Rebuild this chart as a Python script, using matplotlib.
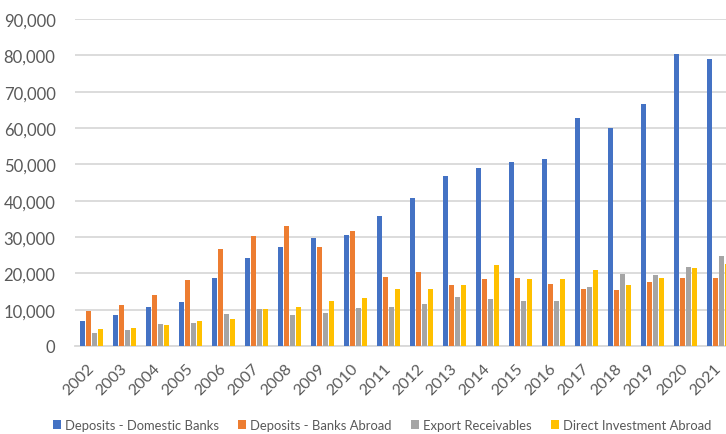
import numpy as np
import matplotlib.pyplot as plt
from matplotlib.ticker import FuncFormatter
from matplotlib.transforms import ScaledTranslation

years = [str(y) for y in range(2002, 2022)]
domestic = [6970, 8620, 10650, 12030, 18730, 24240, 27360, 29840, 30660, 35730,
            40770, 46920, 49120, 50600, 51380, 62810, 60060, 66480, 80440, 79060]
abroad = [9730, 11380, 14050, 18180, 26750, 30390, 33140, 27360, 31600, 18930,
          20300, 16720, 18370, 18640, 17000, 15620, 15340, 17630, 18730, 18730]
receivables = [3580, 4400, 6060, 6340, 8820, 10190, 8540, 9180, 10470, 10830,
               11650, 13410, 12860, 12310, 12480, 16250, 19830, 19560, 21760, 24790]
investment = [4680, 4960, 5870, 6890, 7440, 10190, 10830, 12480, 13310, 15620,
              15620, 16720, 22310, 18370, 18460, 20940, 16800, 18730, 21490, 22590]

series = [
    ("Deposits - Domestic Banks", domestic, "#4472C4"),
    ("Deposits - Banks Abroad", abroad, "#ED7D31"),
    ("Export Receivables", receivables, "#A5A5A5"),
    ("Direct Investment Abroad", investment, "#FFC000"),
]

plt.rcParams['font.family'] = ['Lato', 'DejaVu Sans']

fig = plt.figure(figsize=(7.26, 4.35), dpi=100)
# plot area runs past the right edge, so the last group gets clipped
ax = fig.add_axes([75 / 726, 1 - 347 / 435, 660 / 726, 327 / 435])

x = np.arange(len(years))
step = 0.18
width = 0.14
for i, (name, vals, col) in enumerate(series):
    ax.bar(x + (i - 1.5) * step, vals, width=width, color=col, label=name, zorder=3)

ax.set_xlim(-0.5, len(years) - 0.5)
ax.set_ylim(0, 90000)
ax.set_yticks(np.arange(0, 90001, 10000))
ax.yaxis.set_major_formatter(FuncFormatter(lambda v, p: f"{int(v):,}"))
ax.set_xticks(x)
ax.set_xticklabels(years, rotation=45, ha='right', va='center', rotation_mode='anchor')
# nudge the year labels a little to the left
shift = ScaledTranslation(-3 / 100, 0, fig.dpi_scale_trans)
for lbl in ax.get_xticklabels():
    lbl.set_transform(lbl.get_transform() + shift)

ax.grid(axis='y', color='#D9D9D9', linewidth=1.3, zorder=0)
for s in ['top', 'right', 'left']:
    ax.spines[s].set_visible(False)
ax.spines['bottom'].set_color('#D9D9D9')
ax.spines['bottom'].set_linewidth(1.3)
ax.tick_params(axis='both', length=0, labelcolor='#595959')
ax.tick_params(axis='y', pad=14, labelsize=12)
ax.tick_params(axis='x', pad=14, labelsize=11.5)

fig.legend(loc='center', bbox_to_anchor=(382 / 726, 1 - 426 / 435), ncol=4,
           frameon=False, fontsize=9.4, labelcolor='#595959', handlelength=0.65,
           handleheight=0.65, handletextpad=0.3, columnspacing=1.45)

fig.savefig('out.png', dpi=100)
